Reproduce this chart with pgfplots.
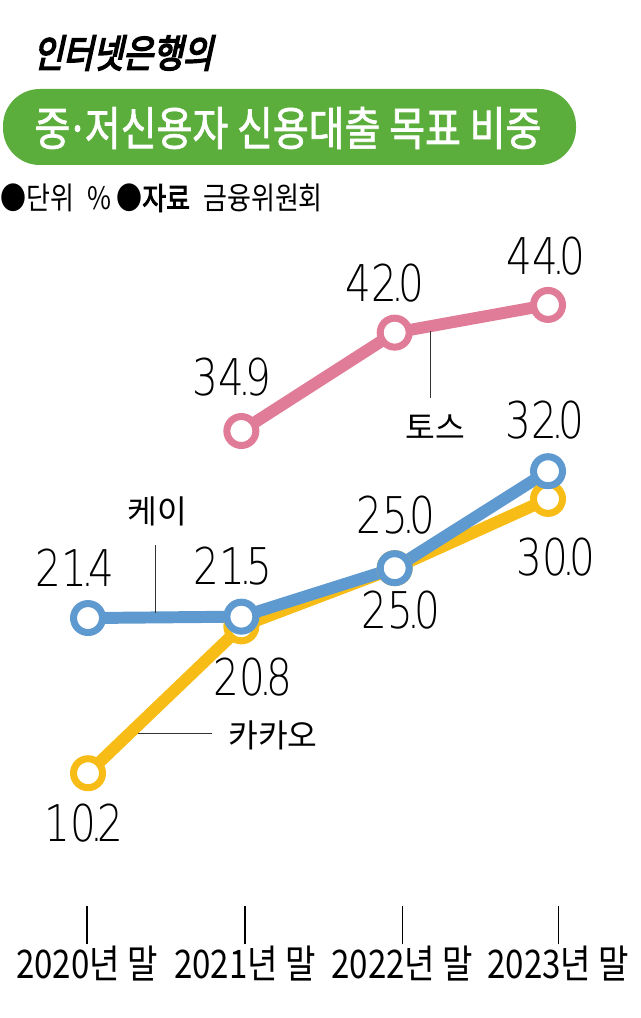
\documentclass[border=0pt]{standalone}
\usepackage{pgfplots}
\pgfplotsset{compat=1.18}
\usepackage{fontspec}
\setmainfont{Noto Sans CJK KR}
\newfontfamily\kr{Noto Sans CJK KR}[FakeStretch=0.84]
\newfontfamily\krn{Noto Sans CJK KR}
\newfontfamily\krb{Noto Sans CJK KR}[FakeStretch=0.84,FakeBold=1.5]
\newfontfamily\krbb{Noto Sans CJK KR}[FakeStretch=0.84,FakeBold=2.5]
\newfontfamily\krt{Noto Sans CJK KR}[FakeStretch=0.84,FakeBold=4,FakeSlant=0.22]
\newfontfamily\num{DejaVu Sans ExtraLight}[FakeStretch=0.8]
\newcommand{\nm}[2]{#1\kern-0.11em.\kern-0.11em#2}
\definecolor{toss}{HTML}{E07C97}
\definecolor{kei}{HTML}{5E99D0}
\definecolor{kakao}{HTML}{F7BD16}
\definecolor{bann}{HTML}{5BAE3B}
\begin{document}
\begin{tikzpicture}
\begin{axis}[
  at={(0,-23.6cm)}, anchor=south west,
  scale only axis, width=16cm, height=23.6cm,
  xmin=-0.574, xmax=3.601, ymin=-2.146, ymax=66.01,
  clip=false,
  hide y axis,
  axis line style={draw=none},
  xtick={-0.007,1.024,2.05,3.066},
  xticklabels={2020년 말,2021년 말,2022년 말,2023년 말},
  xtick pos=bottom, tick align=inside,
  major tick length=0.95cm,
  x tick style={black, line width=0.9pt},
  xticklabel style={font=\kr\fontsize{28}{30}\selectfont, inner sep=0pt, yshift=-1pt},
  ytick=\empty,
]
\addplot[kakao, line width=8.5pt, mark=*, mark size=10.3pt,
  mark options={fill=white, draw=kakao, line width=5pt}]
  coordinates {(0,10.2) (1,20.8) (2,25.0) (3,30.0)};
\addplot[kei, line width=8.5pt, mark=*, mark size=10.3pt,
  mark options={fill=white, draw=kei, line width=5pt}]
  coordinates {(0,21.4) (1,21.5) (2,25.0) (3,32.0)};
\addplot[toss, line width=8.5pt, mark=*, mark size=10.3pt,
  mark options={fill=white, draw=toss, line width=5pt}]
  coordinates {(1,34.9) (2,42.0) (3,44.0)};
\end{axis}
\begin{scope}[x=0.025cm, y=-0.025cm]
\path (0,0) rectangle (640,1018);
% title
\node[anchor=west, inner sep=0pt] at (33,53) {\krt\fontsize{27.5}{29}\selectfont 인터넷은행의};
\fill[bann, rounded corners=0.92cm] (3,89) rectangle (576,165);
\node[text=white, inner sep=0pt] at (288,128) {\krb\fontsize{33}{35}\selectfont 중\kern-0.08em·\kern-0.08em저신용자 신용대출 목표 비중};
% unit / source line
\begin{scope}[every node/.style={anchor=west, inner sep=0pt}]
\node at (0,198) {\kr\fontsize{22}{24}\selectfont ●단위};
\node at (87,198) {\kr\fontsize{22}{24}\selectfont \%};
\node at (116,198) {\kr\fontsize{22}{24}\selectfont ●{\krbb 자료}};
\node at (203,198) {\kr\fontsize{22}{24}\selectfont 금융위원회};
\end{scope}
% number labels
\begin{scope}[every node/.style={inner sep=0pt, font=\num\fontsize{36}{38}\selectfont}]
\node at (75,568) {\nm{21}{4}};
\node at (233,566) {\nm{21}{5}};
\node at (253,677) {\nm{20}{8}};
\node at (84,823) {\nm{10}{2}};
\node at (396,515) {\nm{25}{0}};
\node at (401,610) {\nm{25}{0}};
\node at (545,420) {\nm{32}{0}};
\node at (556,557) {\nm{30}{0}};
\node at (232,377) {\nm{34}{9}};
\node at (385,283) {\nm{42}{0}};
\node at (546,256) {\nm{44}{0}};
\end{scope}
% series names with leader lines
\draw[black!80, line width=0.6pt] (430,331) -- (430,398);
\node[inner sep=0pt] at (435,427) {\krn\fontsize{23}{25}\selectfont 토스};
\draw[black!80, line width=0.6pt] (155,545) -- (155,613);
\node[inner sep=0pt] at (157,511) {\krn\fontsize{23}{25}\selectfont 케이};
\draw[black!80, line width=0.6pt] (138,733) -- (212,733);
\node[inner sep=0pt] at (273,735) {\krn\fontsize{23}{25}\selectfont 카카오};
\end{scope}
\end{tikzpicture}
\end{document}
